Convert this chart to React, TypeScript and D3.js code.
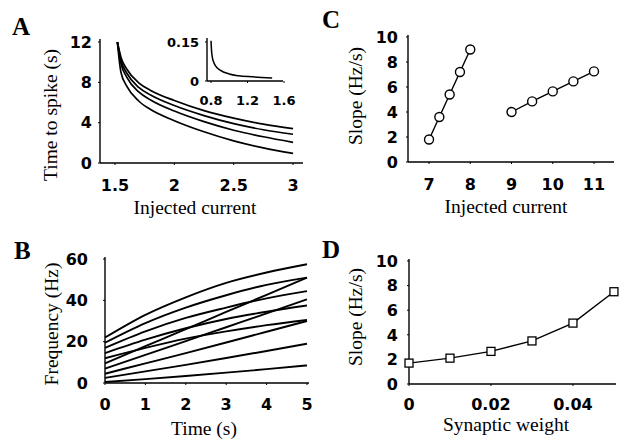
import React, { useEffect, useRef } from 'react';
import * as d3 from 'd3';

// ---- A: time to spike vs injected current (4 curves) ----
const aCurrent = [1.52, 1.55, 1.6, 1.7, 1.8, 2.0, 2.25, 2.5, 2.75, 3.0];
const aTime1 = [12, 10.5, 9.3, 7.95, 7.2, 6.2, 5.2, 4.45, 3.85, 3.4];
const aTime2 = [12, 10.2, 8.9, 7.5, 6.75, 5.7, 4.7, 3.9, 3.3, 2.85];
const aTime3 = [12, 9.9, 8.5, 7.05, 6.25, 5.15, 4.1, 3.25, 2.6, 2.05];
const aTime4 = [12, 9.0, 7.6, 6.15, 5.3, 4.2, 3.1, 2.2, 1.5, 0.95];
const aXTicks = [1.5, 2, 2.5, 3];
const aYTicks = [0, 4, 8, 12];

// inset of A
const insetCurrent = [0.8, 0.805, 0.815, 0.83, 0.85, 0.9, 1.0, 1.1, 1.25, 1.47];
const insetTime = [0.155, 0.12, 0.09, 0.072, 0.058, 0.042, 0.027, 0.02, 0.016, 0.012];
const insetXTicks = [0.8, 1.2, 1.6];
const insetYTicks = [0, 0.15];

// ---- B: frequency vs time ----
const bTime = [0, 1, 2, 3, 4, 5];
const bFreqCurved = [
  [22, 33, 41.5, 48.5, 53.5, 57.5],
  [19.5, 29, 36.5, 42.5, 47.5, 51],
  [17, 25, 31.5, 36.5, 41, 44.5],
  [14.5, 21, 26.5, 31, 34.5, 37.5],
  [12, 17, 21.5, 25, 28, 30.5],
];
const bFreqStraight = [
  [9.5, 17.8, 26.1, 34.4, 42.7, 51],
  [7, 13.6, 20.3, 27, 33.7, 40.5],
  [4.5, 9.5, 14.5, 19.6, 24.8, 30],
  [2.5, 5.6, 8.8, 12.1, 15.5, 19],
  [0.5, 1.9, 3.4, 5.0, 6.7, 8.5],
];
const bXTicks = [0, 1, 2, 3, 4, 5];
const bYTicks = [0, 20, 40, 60];

// ---- C: slope vs injected current ----
const cCurrentLow = [7, 7.25, 7.5, 7.75, 8];
const cSlopeLow = [1.8, 3.6, 5.4, 7.2, 9.0];
const cCurrentHigh = [9, 9.5, 10, 10.5, 11];
const cSlopeHigh = [4.0, 4.85, 5.65, 6.45, 7.25];
const cXTicks = [7, 8, 9, 10, 11];
const slopeTicks = [0, 2, 4, 6, 8, 10];

// ---- D: slope vs synaptic weight ----
const dWeight = [0, 0.01, 0.02, 0.03, 0.04, 0.05];
const dSlope = [1.7, 2.1, 2.65, 3.5, 4.95, 7.5];
const dXTicks = [0, 0.02, 0.04];

const TICK_FONT = '"DejaVu Sans", sans-serif';
const TITLE_FONT = '"Liberation Serif", "Times New Roman", serif';

type Sel = d3.Selection<SVGGElement, unknown, null, undefined>;

function axes(
  g: Sel,
  x: d3.ScaleLinear<number, number>,
  y: d3.ScaleLinear<number, number>,
  xTicks: number[],
  yTicks: number[],
  xLabelBase: number,
  yLabelRight: number,
  fontSize: number
) {
  const [x0, x1] = x.range();
  const [y0, y1] = y.range();
  g.append('line').attr('x1', x0).attr('x2', x1).attr('y1', y0).attr('y2', y0)
    .attr('stroke', '#000').attr('stroke-width', 1.4);
  g.append('line').attr('x1', x0).attr('x2', x0).attr('y1', y0).attr('y2', y1)
    .attr('stroke', '#000').attr('stroke-width', 1.4);
  xTicks.forEach(v => {
    g.append('line').attr('x1', x(v)).attr('x2', x(v)).attr('y1', y0).attr('y2', y0 + 2)
      .attr('stroke', '#000').attr('stroke-width', 1);
    g.append('text').attr('x', x(v)).attr('y', xLabelBase)
      .attr('text-anchor', 'middle').attr('font-family', TICK_FONT).attr('font-weight', 'bold')
      .attr('font-size', fontSize).text(String(v));
  });
  yTicks.forEach(v => {
    g.append('line').attr('x1', x0 - 2).attr('x2', x0).attr('y1', y(v)).attr('y2', y(v))
      .attr('stroke', '#000').attr('stroke-width', 1);
    g.append('text').attr('x', yLabelRight).attr('y', y(v)).attr('dy', '0.36em')
      .attr('text-anchor', 'end').attr('font-family', TICK_FONT).attr('font-weight', 'bold')
      .attr('font-size', fontSize).text(String(v));
  });
}

function titles(g: Sel, xTitle: string, xc: number, xb: number, yTitle: string, yc: number, yb: number) {
  g.append('text').attr('x', xc).attr('y', xb).attr('text-anchor', 'middle')
    .attr('font-family', TITLE_FONT).attr('font-size', 19.5).text(xTitle);
  g.append('text').attr('transform', `translate(${yb},${yc}) rotate(-90)`).attr('text-anchor', 'middle')
    .attr('font-family', TITLE_FONT).attr('font-size', 19.5).text(yTitle);
}

function panelLabel(g: Sel, s: string, px: number, py: number) {
  g.append('text').attr('x', px).attr('y', py).attr('font-family', TITLE_FONT)
    .attr('font-weight', 'bold').attr('font-size', 25).text(s);
}

const App: React.FC = () => {
  const svgRef = useRef<SVGSVGElement>(null);

  useEffect(() => {
    if (!svgRef.current) return;
    const svg = d3.select(svgRef.current);
    svg.selectAll('*').remove();
    const root = svg.append('g') as unknown as Sel;

    // ---------- A ----------
    const ax = d3.scaleLinear().domain([1.3736, 3.084]).range([100, 303]);
    const ay = d3.scaleLinear().domain([0, 12.3]).range([163, 39]);
    const gA = root.append('g') as Sel;
    axes(gA, ax, ay, aXTicks, aYTicks, 191, 92, 16);
    const aLine = d3.line<[number, number]>().x(d => ax(d[0])).y(d => ay(d[1])).curve(d3.curveMonotoneX);
    [aTime1, aTime2, aTime3, aTime4].forEach(series => {
      gA.append('path').attr('d', aLine(aCurrent.map((c, i) => [c, series[i]]))!)
        .attr('fill', 'none').attr('stroke', '#000').attr('stroke-width', 1.7);
    });
    titles(gA, 'Injected current', 195, 214, 'Time to spike (s)', 115, 57);
    panelLabel(gA, 'A', 12, 35);

    // inset
    const ix = d3.scaleLinear().domain([0.756, 1.589]).range([207, 283]);
    const iy = d3.scaleLinear().domain([0, 0.1654]).range([81, 38]);
    const gI = root.append('g') as Sel;
    axes(gI, ix, iy, insetXTicks, insetYTicks, 105, 199, 13);
    gI.append('path')
      .attr('d', d3.line<[number, number]>().x(d => ix(d[0])).y(d => iy(d[1])).curve(d3.curveMonotoneX)(
        insetCurrent.map((c, i) => [c, insetTime[i]])
      )!)
      .attr('fill', 'none').attr('stroke', '#000').attr('stroke-width', 1.5);

    // ---------- B ----------
    const bx = d3.scaleLinear().domain([0, 5.05]).range([105, 309]);
    const by = d3.scaleLinear().domain([0, 61]).range([383, 257]);
    const gB = root.append('g') as Sel;
    axes(gB, bx, by, bXTicks, bYTicks, 410, 88, 16);
    const bLine = d3.line<[number, number]>().x(d => bx(d[0])).y(d => by(d[1])).curve(d3.curveMonotoneX);
    [...bFreqCurved, ...bFreqStraight].forEach(series => {
      gB.append('path').attr('d', bLine(bTime.map((t, i) => [t, series[i]]))!)
        .attr('fill', 'none').attr('stroke', '#000').attr('stroke-width', 1.9);
    });
    titles(gB, 'Time (s)', 204, 435, 'Frequency (Hz)', 324, 58);
    panelLabel(gB, 'B', 14, 259);

    // ---------- C ----------
    const cx = d3.scaleLinear().domain([6.49, 11.485]).range([408, 614]);
    const cy = d3.scaleLinear().domain([0, 10.16]).range([162, 35]);
    const gC = root.append('g') as Sel;
    axes(gC, cx, cy, cXTicks, slopeTicks, 190, 398, 16);
    const cLine = d3.line<[number, number]>().x(d => cx(d[0])).y(d => cy(d[1]));
    [[cCurrentLow, cSlopeLow], [cCurrentHigh, cSlopeHigh]].forEach(([xs, ys]) => {
      const pts = xs.map((v, i) => [v, ys[i]] as [number, number]);
      gC.append('path').attr('d', cLine(pts)!).attr('fill', 'none')
        .attr('stroke', '#000').attr('stroke-width', 1.4);
      gC.selectAll(null).data(pts).enter().append('circle')
        .attr('cx', d => cx(d[0])).attr('cy', d => cy(d[1])).attr('r', 4.5)
        .attr('fill', '#fff').attr('stroke', '#000').attr('stroke-width', 1.4);
    });
    titles(gC, 'Injected current', 506, 213, 'Slope (Hz/s)', 96, 362);
    panelLabel(gC, 'C', 322, 28);

    // ---------- D ----------
    const dx = d3.scaleLinear().domain([0, 0.0505]).range([409, 616]);
    const dy = d3.scaleLinear().domain([0, 10.16]).range([384, 259]);
    const gD = root.append('g') as Sel;
    axes(gD, dx, dy, dXTicks, slopeTicks, 410, 398, 16);
    const dPts = dWeight.map((w, i) => [w, dSlope[i]] as [number, number]);
    gD.append('path').attr('d', d3.line<[number, number]>().x(d => dx(d[0])).y(d => dy(d[1]))(dPts)!)
      .attr('fill', 'none').attr('stroke', '#000').attr('stroke-width', 1.4);
    gD.selectAll(null).data(dPts).enter().append('rect')
      .attr('x', d => dx(d[0]) - 4).attr('y', d => dy(d[1]) - 4)
      .attr('width', 8).attr('height', 8)
      .attr('fill', '#fff').attr('stroke', '#000').attr('stroke-width', 1.3);
    titles(gD, 'Synaptic weight', 506, 431, 'Slope (Hz/s)', 317, 362);
    panelLabel(gD, 'D', 322, 258);
  }, []);

  return (
    <div style={{ position: 'absolute', left: 0, top: 0, width: 623, height: 443, background: '#fff' }}>
      <svg ref={svgRef} width={623} height={443}></svg>
    </div>
  );
};

export default App;
